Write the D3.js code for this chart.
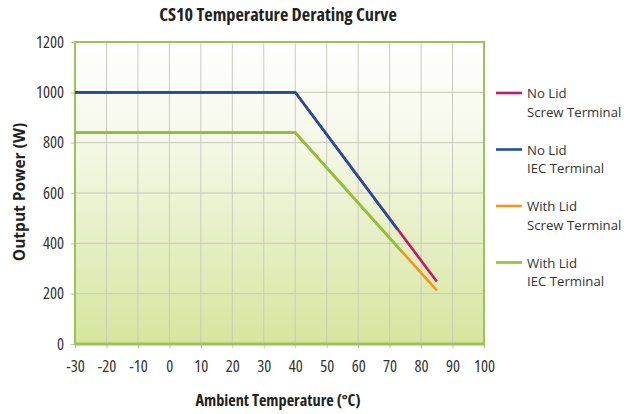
<!DOCTYPE html>
<html><head><meta charset="utf-8">
<script src="https://cdn.jsdelivr.net/npm/d3@7"></script>
<style>
body{margin:0;background:#fff;}
text{font-family:"Open Sans",sans-serif;font-stretch:condensed;}
</style></head>
<body><svg id="c" width="630" height="414"></svg>
<script>
const xTicks = [-30,-20,-10,0,10,20,30,40,50,60,70,80,90,100];
const yTicks = [0,200,400,600,800,1000,1200];
const seriesNames = ["No Lid|Screw Terminal","No Lid|IEC Terminal","With Lid|Screw Terminal","With Lid|IEC Terminal"];
const seriesColors = ["#c8176b","#1f4f9e","#f7941d","#8dc03f"];
const noLidScrew = [[-30,1000],[40,1000],[85,248]];
const noLidIEC = [[-30,1000],[40,1000],[72.5,455]];
const withLidScrew = [[-30,840],[40,840],[85,213]];
const withLidIEC = [[-30,840],[40,840],[74,365]];
const seriesData = [noLidScrew, noLidIEC, withLidScrew, withLidIEC];

const svg = d3.select("#c");
const m = {l:75, r:484, t:42, b:344};
const x = d3.scaleLinear().domain([-30,100]).range([m.l,m.r]);
const y = d3.scaleLinear().domain([0,1200]).range([m.b,m.t]);

const defs = svg.append("defs");
const g = defs.append("linearGradient").attr("id","bg").attr("x1",0).attr("y1",0).attr("x2",0).attr("y2",1);
g.append("stop").attr("offset","0%").attr("stop-color","#ffffff");
g.append("stop").attr("offset","30%").attr("stop-color","#f6f9ea");
g.append("stop").attr("offset","100%").attr("stop-color","#d5e69e");

svg.append("rect").attr("x",m.l).attr("y",m.t).attr("width",m.r-m.l).attr("height",m.b-m.t).attr("fill","url(#bg)");

// grid
svg.append("g").selectAll("line").data(xTicks.slice(1,-1)).join("line")
  .attr("x1",d=>x(d)).attr("x2",d=>x(d)).attr("y1",m.t).attr("y2",m.b)
  .attr("stroke","#c9cbc0").attr("stroke-width",1);
svg.append("g").selectAll("line").data(yTicks.slice(1,-1)).join("line")
  .attr("x1",m.l).attr("x2",m.r).attr("y1",d=>y(d)).attr("y2",d=>y(d))
  .attr("stroke","#c6c8bb").attr("stroke-width",1);

// axes
const fmt = d => String(d);
const xa = svg.append("g").attr("transform",`translate(0,${m.b})`)
  .call(d3.axisBottom(x).tickValues(xTicks).tickFormat(fmt).tickSize(4).tickSizeOuter(0).tickPadding(12));
const ya = svg.append("g").attr("transform",`translate(${m.l},0)`)
  .call(d3.axisLeft(y).tickValues(yTicks).tickFormat(fmt).tickSize(4).tickSizeOuter(0).tickPadding(7));
[xa,ya].forEach(a=>{
  a.select(".domain").remove();
  a.selectAll(".tick line").attr("stroke","#b5c98a");
  a.selectAll("text").attr("font-size",16.5).attr("fill","#333").attr("font-family",null);
});

// border
svg.append("rect").attr("x",m.l).attr("y",m.t).attr("width",m.r-m.l).attr("height",m.b-m.t)
  .attr("fill","none").attr("stroke","#9cc25a").attr("stroke-width",2);
svg.append("line").attr("x1",m.l-1).attr("x2",m.r+1).attr("y1",m.b).attr("y2",m.b)
  .attr("stroke","#9cc25a").attr("stroke-width",3);

// lines
const line = d3.line().x(d=>x(d[0])).y(d=>y(d[1]));
seriesData.forEach((s,i)=>{
  svg.append("path").datum(s).attr("d",line).attr("fill","none")
    .attr("stroke",seriesColors[i]).attr("stroke-width",2.6);
});

// title
svg.append("text").attr("x",278).attr("y",21).attr("text-anchor","middle")
  .attr("font-size",18.3).attr("font-weight","bold").attr("fill","#222").text("CS10 Temperature Derating Curve");
svg.append("text").attr("x",278).attr("y",406).attr("text-anchor","middle")
  .attr("font-size",16.3).attr("font-weight","bold").attr("fill","#222").text("Ambient Temperature (°C)");
svg.append("text").attr("transform","translate(25,192) rotate(-90)").attr("text-anchor","middle")
  .attr("font-size",15.5).attr("font-weight","bold").style("font-stretch","normal").attr("fill","#222").text("Output Power (W)");

// legend
const lg = svg.append("g");
seriesNames.forEach((n,i)=>{
  const yy = 93 + i*56.5;
  lg.append("line").attr("x1",496).attr("x2",522).attr("y1",yy).attr("y2",yy)
    .attr("stroke",seriesColors[i]).attr("stroke-width",2.6);
  const parts = n.split("|");
  parts.forEach((p,j)=>{
    lg.append("text").attr("x",527).attr("y",yy+5+j*18.5).attr("font-size",13.2)
      .style("font-stretch","normal").attr("fill","#333").text(p);
  });
});
</script></body></html>
